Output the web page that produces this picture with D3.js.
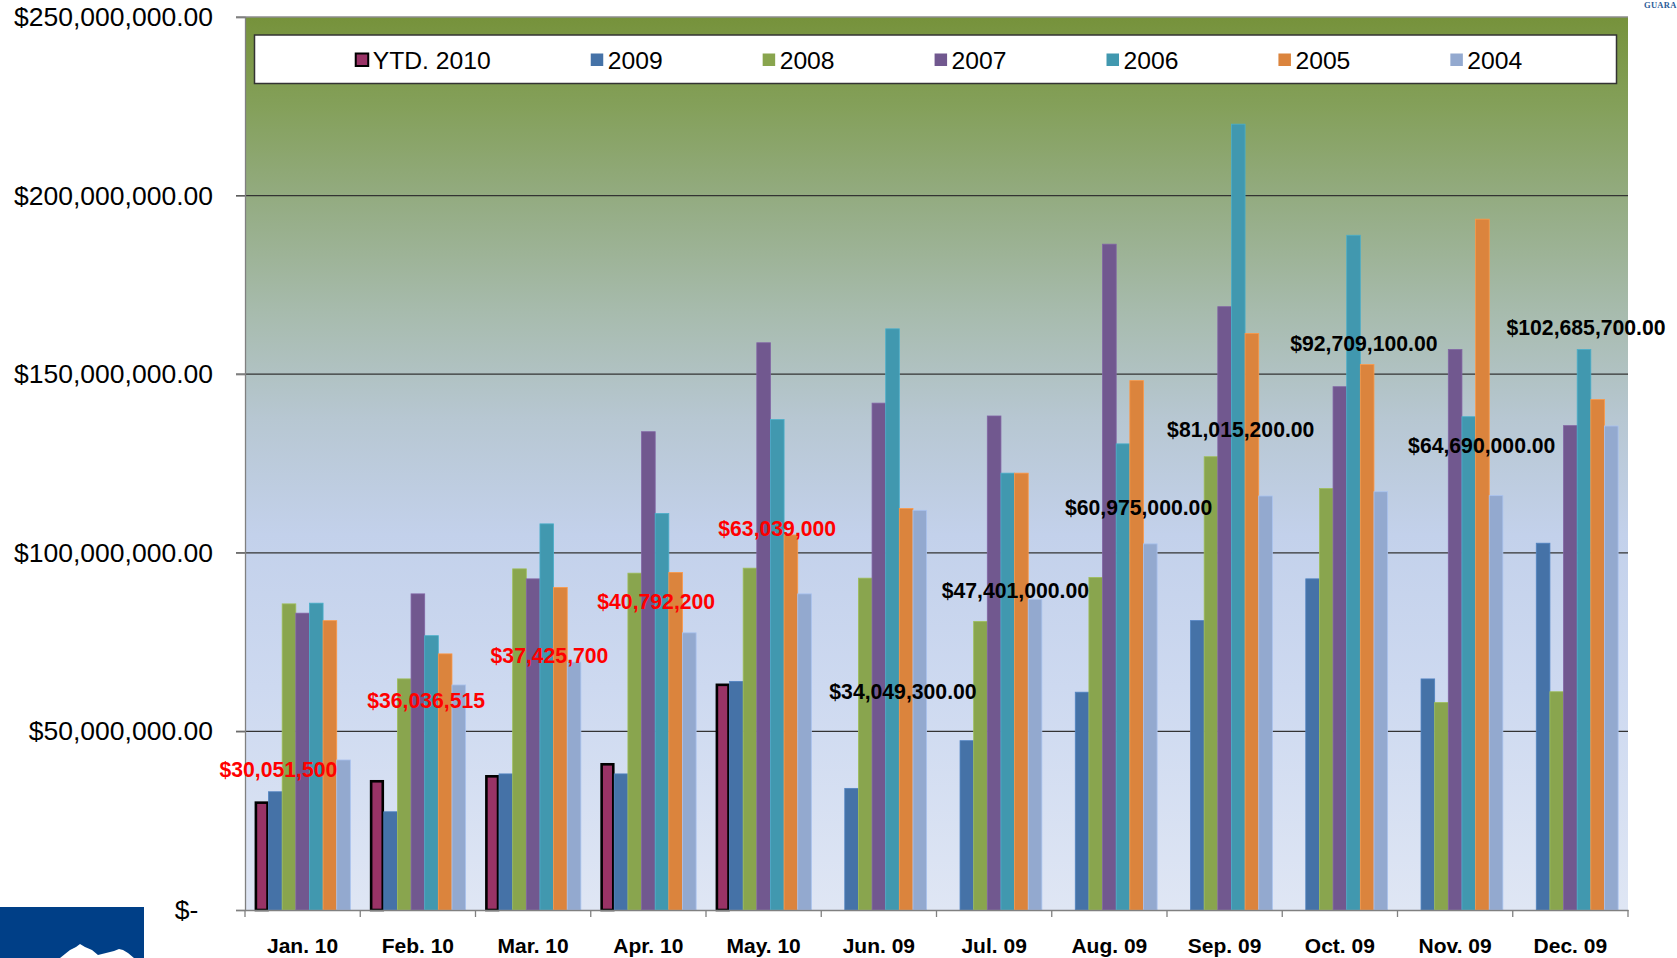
<!DOCTYPE html>
<html>
<head>
<meta charset="utf-8">
<script src="https://cdn.jsdelivr.net/npm/d3@7"></script>
<style>
  html, body { margin: 0; padding: 0; background: #fff; }
  svg { display: block; font-family: "Liberation Sans", Arial, sans-serif; }
</style>
</head>
<body>
<svg id="chart" width="1677" height="958"></svg>
<script>
// ---------------- DATA ----------------
const categories = ["Jan. 10","Feb. 10","Mar. 10","Apr. 10","May. 10","Jun. 09","Jul. 09","Aug. 09","Sep. 09","Oct. 09","Nov. 09","Dec. 09"];
const seriesNames = ["YTD. 2010","2009","2008","2007","2006","2005","2004"];
const ytd2010 = [30051500, 36036515, 37425700, 40792200, 63039000, null, null, null, null, null, null, null];
const y2009 = [33100000, 27500000, 38100000, 38100000, 64000000, 34049300, 47401000, 60975000, 81015200, 92709100, 64690000, 102685700];
const y2008 = [85700000, 64700000, 95500000, 94300000, 95700000, 92900000, 80800000, 93100000, 126900000, 118000000, 58100000, 61100000];
const y2007 = [83100000, 88500000, 92700000, 133900000, 158800000, 141900000, 138300000, 186400000, 168900000, 146500000, 156900000, 135600000];
const y2006 = [85900000, 76800000, 108100000, 111000000, 137300000, 162700000, 122300000, 130500000, 220000000, 188900000, 138100000, 156900000];
const y2005 = [81000000, 71700000, 90300000, 94500000, 105000000, 112400000, 122300000, 148200000, 161400000, 152700000, 193400000, 142900000];
const y2004 = [42000000, 63000000, 69400000, 77600000, 88500000, 111900000, 87000000, 102500000, 115900000, 117100000, 116000000, 135500000];
const yTicks = [0, 50000000, 100000000, 150000000, 200000000, 250000000];

// label anchor layout (fraction across category band, value level of label centre)
const labelLayout = [
  [0.29, 39.4e6], [0.572, 58.8e6], [0.642, 71.4e6], [0.568, 86.3e6], [0.618, 106.9e6],
  [0.709, 61.1e6], [0.684, 89.4e6], [0.753, 112.6e6], [0.640, 134.5e6], [0.708, 158.5e6],
  [0.731, 130.1e6], [0.636, 163.2e6]
];

// ---------------- STYLE ----------------
const colors = ["#993366", "#4572a7", "#89a54e", "#71588f", "#4198af", "#db843d", "#93a9cf"];
const seriesValues = [ytd2010, y2009, y2008, y2007, y2006, y2005, y2004];

const svg = d3.select("#chart");
const pLeft = 245, pRight = 1628, pTop = 17, pBottom = 910;

const x = d3.scaleBand().domain(categories).range([pLeft, pRight]).paddingInner(0).paddingOuter(0);
const xs = d3.scaleBand().domain(seriesNames).range([0, x.bandwidth()]).paddingInner(0).paddingOuter(0.725);
const y = d3.scaleLinear().domain([0, 250000000]).range([pBottom, pTop]);

// gradient
const defs = svg.append("defs");
const grad = defs.append("linearGradient").attr("id", "bg").attr("x1", 0).attr("y1", 0).attr("x2", 0).attr("y2", 1);
[[0, "#76923b"], [0.1, "#84a05a"], [0.2, "#93ab80"], [0.33, "#a7bbad"], [0.45, "#b7c7d2"],
 [0.58, "#c3d1eb"], [0.75, "#cdd9f0"], [1, "#dfe6f4"]].forEach(s =>
  grad.append("stop").attr("offset", s[0]).attr("stop-color", s[1]));

svg.append("rect").attr("x", pLeft).attr("y", pTop).attr("width", pRight - pLeft).attr("height", pBottom - pTop)
  .attr("fill", "url(#bg)");

// gridlines
svg.append("g").selectAll("line").data(yTicks.filter(d => d > 0)).join("line")
  .attr("x1", pLeft - 9).attr("x2", pRight)
  .attr("y1", d => y(d)).attr("y2", d => y(d))
  .attr("stroke", d => d === 250000000 ? "#8c8c8c" : "#333333").attr("stroke-width", 1.3);

// y axis
const yAxis = d3.axisLeft(y).tickValues(yTicks).tickSize(9).tickPadding(25)
  .tickFormat(d => d === 0 ? "$-\u00a0\u00a0" : d3.format("$,.2f")(d));
const gy = svg.append("g").attr("transform", `translate(${pLeft},0)`).call(yAxis);
gy.select(".domain").attr("stroke", "#808080").attr("stroke-width", 1.3);
gy.selectAll(".tick line").attr("stroke", "#808080").attr("stroke-width", 1.3);
gy.selectAll(".tick text").attr("font-size", 26.5).attr("fill", "#000")
  .attr("font-family", "'Liberation Sans', Arial, sans-serif").attr("x", -32);

// bars
const gBars = svg.append("g");
seriesNames.forEach((name, si) => {
  const vals = seriesValues[si];
  const data = categories.map((c, i) => ({ c, v: vals[i] })).filter(d => d.v != null);
  gBars.append("g").selectAll("rect").data(data).join("rect")
    .attr("x", d => x(d.c) + xs(name) + (si === 0 ? 1 : 0))
    .attr("width", xs.bandwidth() - (si === 0 ? 2 : 0))
    .attr("y", d => y(d.v))
    .attr("height", d => pBottom - y(d.v))
    .attr("fill", colors[si])
    .attr("stroke", si === 0 ? "#000" : d3.color(colors[si]).brighter(0.4))
    .attr("stroke-width", si === 0 ? 2.6 : 0.8);
});

// x axis
const xAxis = d3.axisBottom(x).tickSize(0).tickPadding(0).tickFormat(d => d);
const gx = svg.append("g").attr("transform", `translate(0,${pBottom})`).call(xAxis);
gx.select(".domain").attr("stroke", "#808080").attr("stroke-width", 1.3);
gx.selectAll(".tick text").attr("font-size", 21).attr("font-weight", "bold").attr("fill", "#000")
  .attr("font-family", "'Liberation Sans', Arial, sans-serif").attr("y", 43).attr("dy", 0);
// boundary ticks
const bounds = categories.map(c => x(c)).concat([pRight]);
svg.append("g").selectAll("line").data(bounds).join("line")
  .attr("x1", d => d).attr("x2", d => d).attr("y1", pBottom).attr("y2", pBottom + 7)
  .attr("stroke", "#808080").attr("stroke-width", 1.3);

// data labels
const fmtRed = d3.format("$,.0f"), fmtBlack = d3.format("$,.2f");
const labels = categories.map((c, i) => {
  const isYtd = ytd2010[i] != null;
  const v = isYtd ? ytd2010[i] : y2009[i];
  return { c, text: isYtd ? fmtRed(v) : fmtBlack(v), color: isYtd ? "#ff0000" : "#000000",
           fx: labelLayout[i][0], lv: labelLayout[i][1] };
});
svg.append("g").selectAll("text").data(labels).join("text")
  .attr("x", d => x(d.c) + d.fx * x.bandwidth())
  .attr("y", d => y(d.lv))
  .attr("dy", "0.36em")
  .attr("text-anchor", "middle")
  .attr("font-size", 21.2).attr("font-weight", "bold")
  .attr("fill", d => d.color)
  .text(d => d.text);

// legend
const lg = svg.append("g");
lg.append("rect").attr("x", 254.5).attr("y", 35).attr("width", 1362).attr("height", 48.5)
  .attr("fill", "#fff").attr("stroke", "#333").attr("stroke-width", 1.5);
const items = lg.selectAll("g.item").data(seriesNames).join("g").attr("class", "item");
items.append("text").attr("y", 69.3).attr("font-size", 24.7).attr("fill", "#000").text(d => d);
const widths = [];
items.each(function () { widths.push(d3.select(this).select("text").node().getComputedTextLength()); });
const markerW = 13, gap = 4, spacing = 100;
const total = d3.sum(widths) + widths.length * (markerW + gap) + (widths.length - 1) * spacing;
let cx = 939 - total / 2;
items.each(function (d, i) {
  const g = d3.select(this);
  g.insert("rect", "text").attr("x", cx).attr("y", 53.5).attr("width", 12.5).attr("height", 12.5)
    .attr("fill", colors[i]).attr("stroke", i === 0 ? "#000" : "none").attr("stroke-width", i === 0 ? 2 : 0);
  g.select("text").attr("x", cx + markerW + gap);
  cx += markerW + gap + widths[i] + spacing;
});

// logo bottom-left
svg.append("rect").attr("x", 0).attr("y", 907).attr("width", 144).attr("height", 51).attr("fill", "#003f87");
svg.append("path")
  .attr("d", "M60,958 L70,950 L76,947 L80,944 L85,947 L92,950 L98,955 L106,953 L114,951 L119,949 L123,950 L128,953 L134,958 Z")
  .attr("fill", "#ffffff");

// corner text
svg.append("text").attr("x", 1644).attr("y", 8).attr("font-size", 8.5).attr("font-weight", "bold")
  .attr("font-family", "'Liberation Serif', 'DejaVu Serif', serif").attr("fill", "#2b5b98")
  .attr("letter-spacing", 0.3).text("GUARA");
</script>
</body>
</html>
